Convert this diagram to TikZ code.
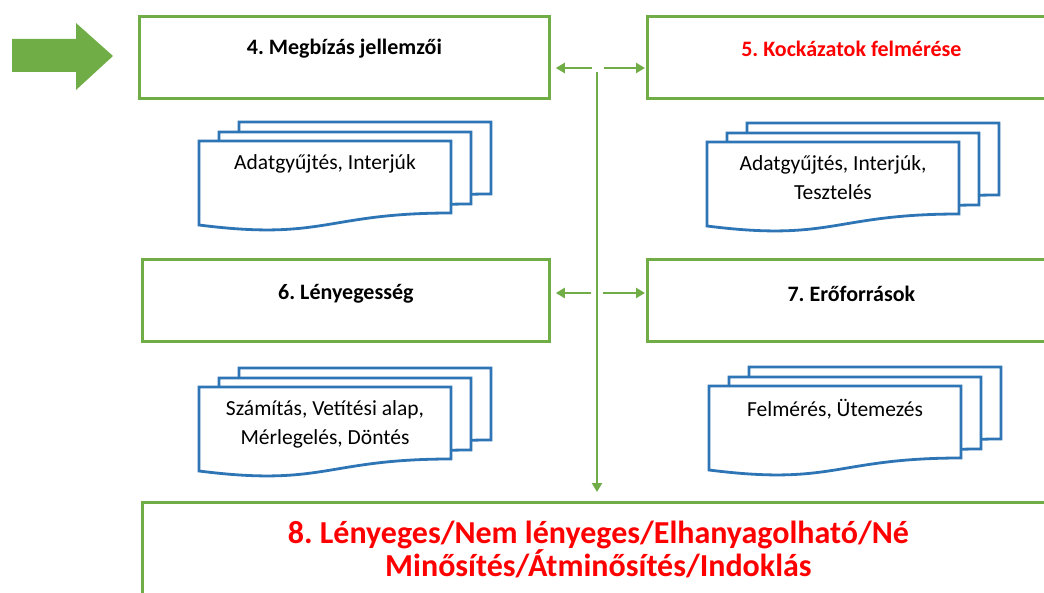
\documentclass[tikz,border=0pt]{standalone}
\usepackage{fontspec}
\setmainfont{Carlito}
\usetikzlibrary{arrows.meta}
\definecolor{stepgreen}{RGB}{112,173,71}
\definecolor{sheetblue}{RGB}{46,117,182}
\definecolor{alertred}{RGB}{255,0,0}
\frenchspacing
\tikzset{
    pics/docstack/.style={code={
        \foreach \dx/\dy in {40/-19,20/-9,0/0}
            \draw[sheetblue,line width=2.8pt,fill=white] (\dx,\dy) -- ++(252,0) -- ++(0,72)
                .. controls +(-126,0) and +(126,16) .. ++(-252,12) -- cycle;
    }}
}
\begin{document}
\begin{tikzpicture}[x=1pt,y=-1pt,
        stepframe/.style={draw=stepgreen,line width=2.8pt,minimum height=82pt,inner sep=0pt,anchor=north west},
        steptitle/.style={font=\fontsize{22}{26}\selectfont\bfseries},
        sheettext/.style={font=\fontsize{21.5}{29}\selectfont,align=center,anchor=north,inner sep=0pt},
        link/.style={draw=stepgreen,line width=2.8pt,-{Triangle[length=9pt,width=10pt]}}]
    \useasboundingbox (0,0) rectangle (1044,593);
    \clip (0,0) rectangle (1044,593);
    % start arrow
    \fill[stepgreen] (12,39) -- (76,39) -- (76,23) -- (113,56) -- (76,90) -- (76,72) -- (12,72) -- cycle;
    % boxes
    \node[stepframe,minimum width=410pt] (megbizas) at (138,15) {};
    \node[stepframe,minimum width=408pt] (kockazat) at (646,15) {};
    \node[stepframe,minimum width=407pt] (lenyeges) at (141,258) {};
    \node[stepframe,minimum width=408pt] (eroforras) at (646,258) {};
    \node[stepframe,minimum width=912pt,minimum height=120pt] (minosites) at (141,501) {};
    \node[steptitle] (megbizas title) at ([yshift=9pt]megbizas.center) {4. Megbízás jellemzői};
    \node[steptitle,text=alertred] (kockazat title) at ([yshift=9pt]kockazat.center) {5. Kockázatok felmérése};
    \node[steptitle] (lenyeges title) at ([yshift=7pt]lenyeges.center) {6. Lényegesség};
    \node[steptitle] (eroforras title) at ([yshift=7pt]eroforras.center) {7. Erőforrások};
    \node[font=\fontsize{32}{33}\selectfont\bfseries,text=alertred,align=center,anchor=north,inner sep=0pt] (minosites title)
        at ([yshift=-20pt]minosites.north) {8. Lényeges/Nem lényeges/Elhanyagolható/Né\\Minősítés/Átminősítés/Indoklás};
    % document stacks
    \pic at (199,141) {docstack};
    \pic at (707,142) {docstack};
    \pic at (199,387) {docstack};
    \pic at (709,386) {docstack};
    \node[sheettext] (gyujtes) at (325,154) {Adatgyűjtés, Interjúk};
    \node[sheettext] (teszt) at (833,155) {Adatgyűjtés, Interjúk,\\Tesztelés};
    \node[sheettext] (szamitas) at (325,400) {Számítás, Vetítési alap,\\Mérlegelés, Döntés};
    \node[sheettext] (utemezes) at (835,399) {Felmérés, Ütemezés};
    % connectors
    \coordinate (fork1) at (597,68);
    \coordinate (fork2) at (597,293);
    \draw[link,shorten >=5pt] ([xshift=-5pt]fork1) -- (megbizas.east |- fork1);
    \draw[link,shorten >=1pt] ([xshift=7pt]fork1) -- (kockazat.west |- fork1);
    \draw[link,shorten >=5pt] ([xshift=-6pt]fork2) -- (lenyeges.east |- fork2);
    \draw[link,shorten >=1pt] ([xshift=6pt]fork2) -- (eroforras.west |- fork2);
    \draw[link,shorten >=9pt] ([yshift=-4pt]fork1) -- (minosites.north -| fork1);
\end{tikzpicture}
\end{document}
